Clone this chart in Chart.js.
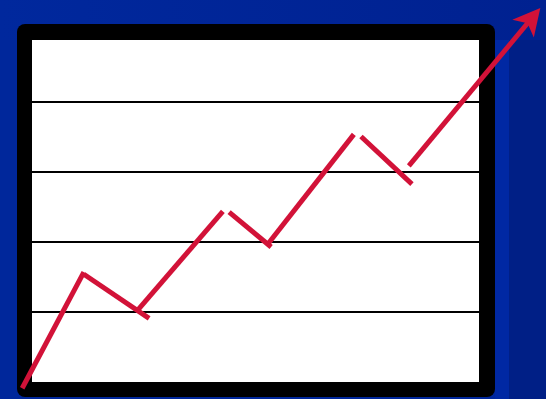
<!DOCTYPE html>
<html><head><meta charset="utf-8">
<script src="https://cdn.jsdelivr.net/npm/chart.js@4/dist/chart.umd.min.js"></script>
<style>html,body{margin:0;padding:0;background:#00279b;overflow:hidden}#wrap{width:546px;height:399px}</style>
</head><body><div id="wrap"><canvas id="c" width="546" height="399"></canvas></div>
<script>
// Rising zig-zag trend, drawn as separate strokes (x in time units, y in grid units)
const segmentStarts = [[-0.22,-0.09],[1.16,1.54],[2.37,1.03],[4.41,2.43],[5.26,1.96],[7.36,3.51],[8.43,3.09]];
const segmentEnds   = [[1.16,1.57],[2.62,0.91],[4.27,2.44],[5.35,1.93],[7.20,3.54],[8.50,2.83],[11.10,5.14]];
const yTicks = [1,2,3,4];
const xRange = [0,10];
const yRange = [0,4.89];

const RED = '#d21238';
const datasets = segmentStarts.map((s,i)=>({
  data:[{x:s[0],y:s[1]},{x:segmentEnds[i][0],y:segmentEnds[i][1]}],
  borderColor:RED, borderWidth:5, pointRadius:0, borderCapStyle:'butt',
  clip:false, tension:0
}));

const board = {
  id:'board',
  beforeDraw(chart){
    const {ctx, chartArea:a, width, height} = chart;
    ctx.save();
    ctx.fillStyle='#00279b'; ctx.fillRect(0,0,width,height);
    const g = ctx.createLinearGradient(0,0,width,0);
    g.addColorStop(0,'#00289d'); g.addColorStop(1,'#002190');
    ctx.fillStyle=g; ctx.fillRect(0,0,width,a.top);
    ctx.fillStyle='#0028a3'; ctx.fillRect(a.right+16,a.top,width,height);
    ctx.fillStyle='#001f86'; ctx.fillRect(a.right+30,a.top,width,height);
    ctx.fillStyle='#000';
    ctx.beginPath();
    ctx.roundRect(a.left-15,a.top-16,(a.right+16)-(a.left-15),(a.bottom+15)-(a.top-16),8);
    ctx.fill();
    ctx.fillStyle='#fff';
    ctx.fillRect(a.left,a.top,a.right-a.left,a.bottom-a.top);
    ctx.restore();
  },
  afterDatasetsDraw(chart){
    const n = chart.data.datasets.length-1;
    const meta = chart.getDatasetMeta(n);
    const p0 = meta.data[0], p1 = meta.data[1];
    const ang = Math.atan2(p1.y-p0.y, p1.x-p0.x);
    const ctx = chart.ctx;
    ctx.save();
    ctx.translate(p1.x,p1.y); ctx.rotate(ang);
    ctx.fillStyle=RED;
    ctx.beginPath();
    ctx.moveTo(19,0);
    ctx.lineTo(-8,-14);
    ctx.lineTo(-1,0);
    ctx.lineTo(-8,14);
    ctx.closePath(); ctx.fill();
    ctx.restore();
  }
};

new Chart(document.getElementById('c'),{
  type:'line',
  data:{datasets},
  options:{
    responsive:false, animation:false, devicePixelRatio:1,
    layout:{padding:{left:32,top:40,right:67,bottom:17}},
    plugins:{legend:{display:false},tooltip:{enabled:false}},
    scales:{
      x:{type:'linear',min:xRange[0],max:xRange[1],display:true,
         ticks:{display:false},grid:{display:false,drawTicks:false},border:{display:false}},
      y:{type:'linear',min:yRange[0],max:yRange[1],
         afterBuildTicks(s){s.ticks=yTicks.map(v=>({value:v}));},
         ticks:{display:false},
         grid:{color:'#000',lineWidth:2,drawTicks:false},border:{display:false}}
    }
  },
  plugins:[board]
});
</script></body></html>
